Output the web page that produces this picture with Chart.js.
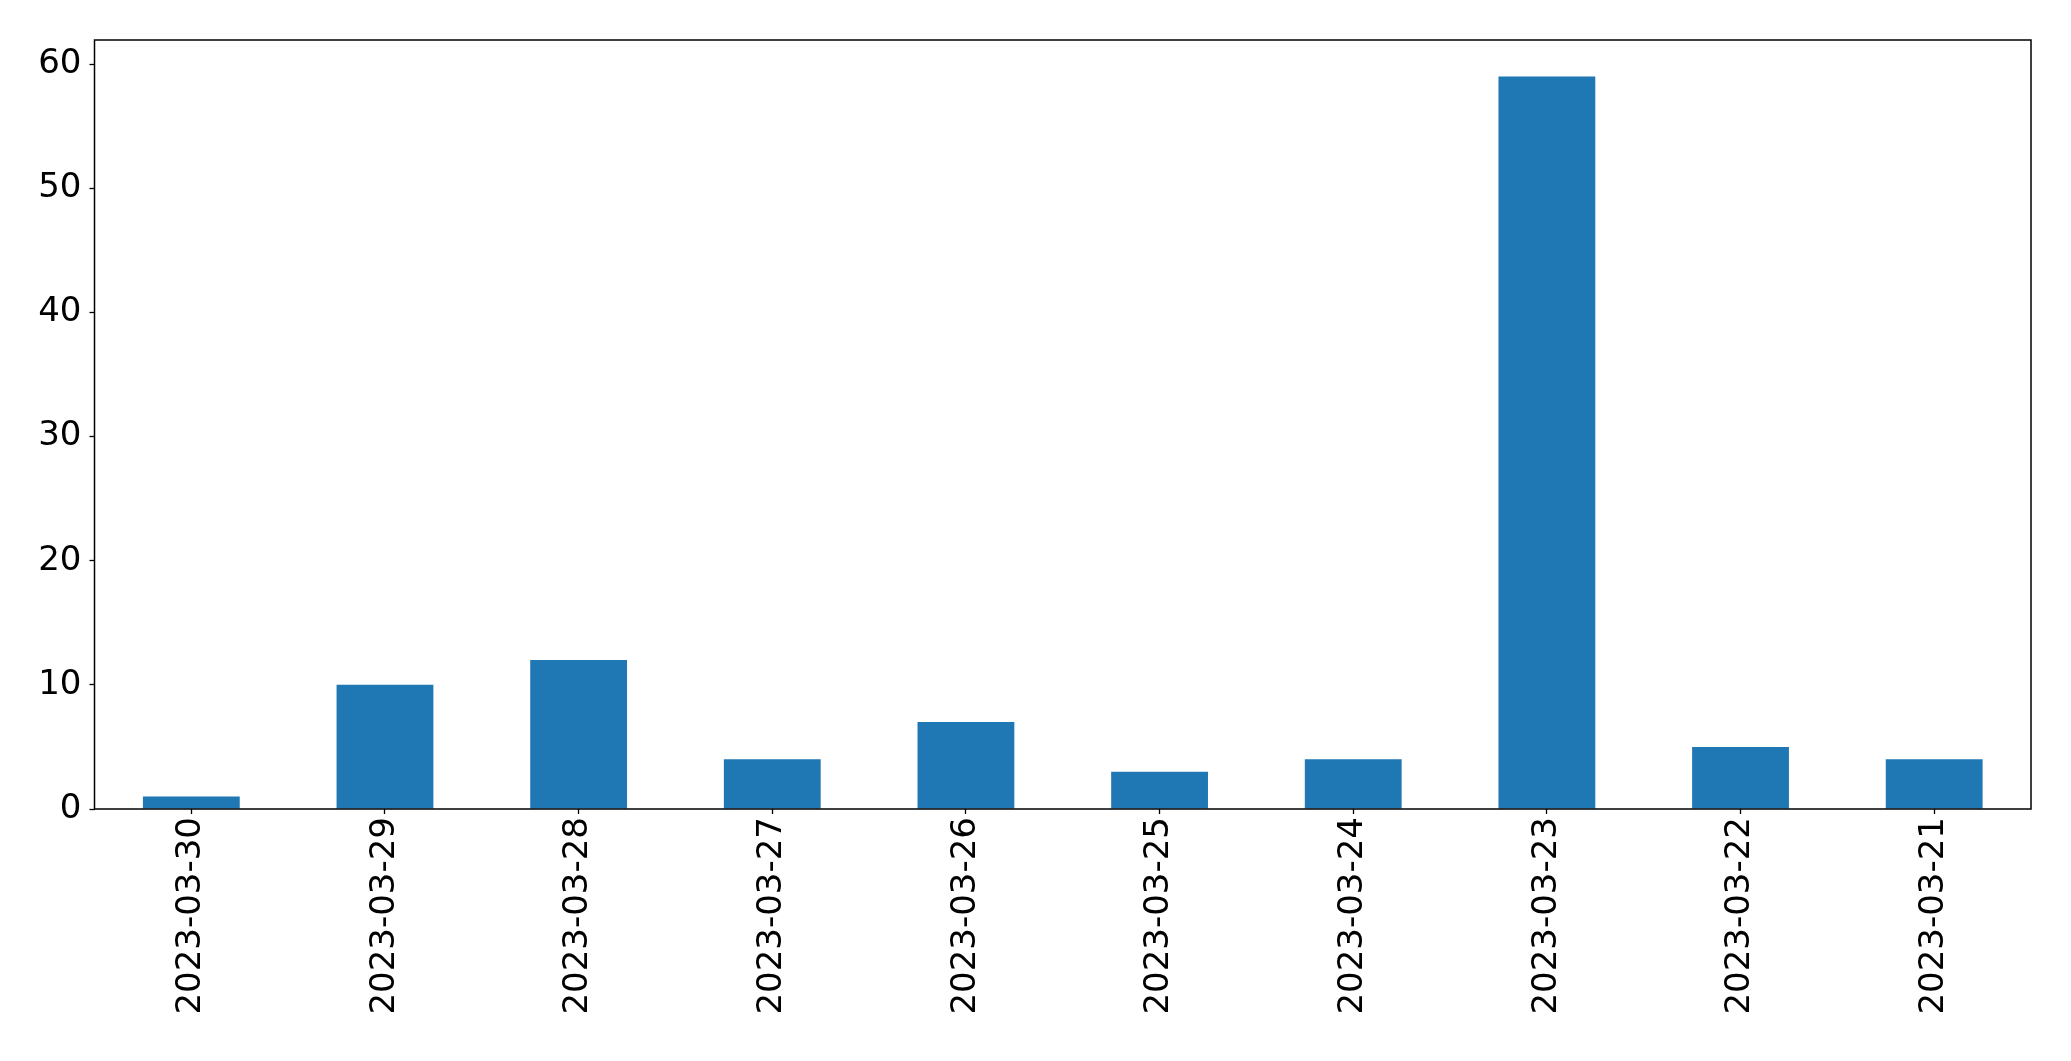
<!DOCTYPE html>
<html>
<head>
<meta charset="utf-8">
<script src="https://cdn.jsdelivr.net/npm/chart.js@4/dist/chart.umd.min.js"></script>
<style>
  body { margin: 0; background: #fff; }
</style>
</head>
<body>
<canvas id="chart" width="2071" height="1061"></canvas>
<script>
const dates = ['2023-03-30', '2023-03-29', '2023-03-28', '2023-03-27', '2023-03-26',
               '2023-03-25', '2023-03-24', '2023-03-23', '2023-03-22', '2023-03-21'];
const counts = [1, 10, 12, 4, 7, 3, 4, 59, 5, 4];
const yTicks = [0, 10, 20, 30, 40, 50, 60];

const tickFont = { family: 'DejaVu Sans', size: 34 };

// matplotlib-style box around the plot area
const frame = {
  id: 'frame',
  afterDatasetsDraw(chart) {
    const a = chart.chartArea;
    const ctx = chart.ctx;
    ctx.save();
    ctx.strokeStyle = '#000';
    ctx.lineWidth = 1.5;
    ctx.strokeRect(a.left, a.top, a.right - a.left, a.bottom - a.top);
    ctx.restore();
  }
};

new Chart(document.getElementById('chart'), {
  type: 'bar',
  data: {
    labels: dates,
    datasets: [{
      data: counts,
      backgroundColor: '#1f77b4',
      barPercentage: 0.5,
      categoryPercentage: 1.0,
    }],
  },
  options: {
    responsive: false,
    animation: false,
    devicePixelRatio: 1,
    layout: { padding: { top: 40, right: 40, left: 0, bottom: 0 } },
    plugins: {
      legend: { display: false },
      tooltip: { enabled: false },
    },
    scales: {
      x: {
        offset: true,
        grid: { offset: false, drawOnChartArea: false, drawTicks: true, tickLength: 5, tickColor: '#000', tickWidth: 1.3 },
        border: { display: false },
        ticks: { color: '#000', font: tickFont, minRotation: 90, maxRotation: 90, padding: 3, autoSkip: false },
        afterFit(scale) { scale.height = 252; },
      },
      y: {
        min: 0,
        max: 61.95,
        grid: { drawOnChartArea: false, drawTicks: true, tickLength: 5, tickColor: '#000', tickWidth: 1.3 },
        border: { display: false },
        ticks: { color: '#000', font: tickFont, padding: 8 },
        afterBuildTicks(scale) { scale.ticks = yTicks.map(v => ({ value: v })); },
        afterFit(scale) { scale.width = 94.5; },
      },
    },
  },
  plugins: [frame],
});
</script>
</body>
</html>
